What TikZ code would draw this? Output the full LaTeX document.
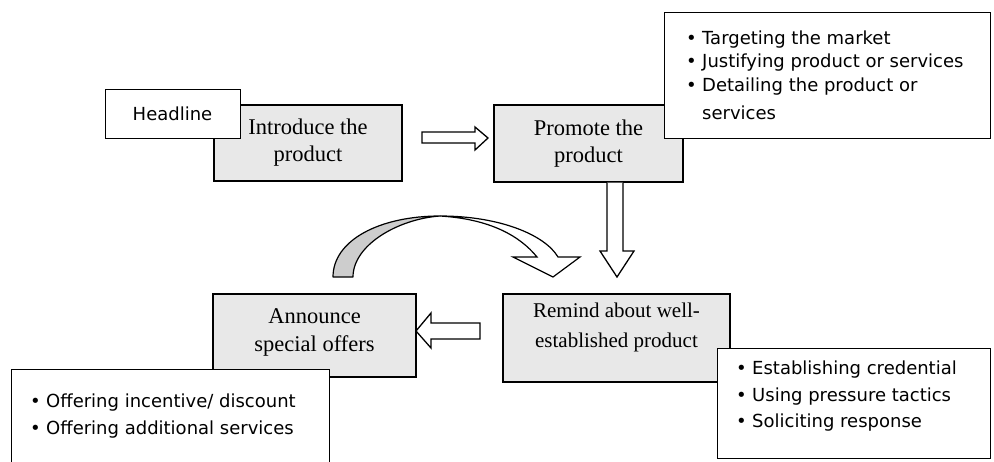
\documentclass[tikz,border=0pt]{standalone}
\usepackage{fontspec}
\setmainfont{Liberation Serif}
\newfontfamily\calloutfont{DejaVu Sans}
\definecolor{boxgray}{RGB}{232,232,232}
\definecolor{curlgray}{RGB}{205,205,205}
\newcommand{\itm}[1]{\makebox[16pt][l]{\textbullet}#1}
\tikzset{
  stage/.style={draw=black, line width=1.5pt, fill=boxgray, inner sep=0pt, align=center,
    font=\fontsize{22.5}{27}\selectfont},
  callout/.style={draw=black, line width=0.9pt, fill=white, inner sep=0pt},
  item/.style={anchor=west, inner sep=0pt, font=\calloutfont\fontsize{18}{22}\selectfont,
    text height=13pt, text depth=4pt},
  blockarrow/.style={draw=black, line width=1.3pt, fill=white, line join=miter},
}
\begin{document}
\begin{tikzpicture}[x=1pt,y=-1pt]
\useasboundingbox (0,0) rectangle (994,461);

% stage boxes
\node[stage, minimum width=188pt, minimum height=76pt] (intro) at (308,143) {Introduce the\\product};
\node[stage, minimum width=189pt, minimum height=77pt] (promote) at (588.5,143.5) {Promote the\\product};
\node[stage, minimum width=203pt, minimum height=83pt] (announce) at (314.5,335.5) {};
\node[inner sep=0pt, align=center, font=\fontsize{22.5}{28}\selectfont] (announcetext) at (314.5,332) {Announce\\special offers};
\node[stage, minimum width=227pt, minimum height=88pt] (remind) at (616.5,338) {};
\node[inner sep=0pt, align=center, font=\fontsize{21}{30}\selectfont] (remindtext) at (616.5,327) {Remind about well-\\established product};

% callouts
\node[callout, minimum width=135pt, minimum height=49pt, font=\calloutfont\fontsize{18}{22}\selectfont] (headline) at (172.5,113.5) {Headline};
\node[callout, minimum width=326pt, minimum height=126pt] (promotenote) at (827,75) {};
\node[item] (p1) at (686,40) {\itm{Targeting the market}};
\node[item] (p2) at (686,63) {\itm{Justifying product or services}};
\node[item] (p3) at (686,87) {\itm{Detailing the product or}};
\node[item] (p4) at (702,115) {services};

\node[callout, minimum width=273pt, minimum height=110pt] (remindnote) at (853.5,403) {};
\node[item] (r1) at (736,370) {\itm{Establishing credential}};
\node[item] (r2) at (736,397) {\itm{Using pressure tactics}};
\node[item] (r3) at (736,423) {\itm{Soliciting response}};

\node[callout, minimum width=318pt, minimum height=101pt] (announcenote) at (170,419.5) {};
\node[item] (a1) at (30,403) {\itm{Offering incentive/ discount}};
\node[item] (a2) at (30,430) {\itm{Offering additional services}};

% block arrows
\draw[blockarrow] (422,132) -- (475,132) -- (475,127) -- (488,138) -- (475,150) -- (475,143) -- (422,143) -- cycle;
\draw[blockarrow] (607,182.5) -- (607,251) -- (600,251) -- (617,277) -- (634,251) -- (623,251) -- (623,182.5);
\draw[blockarrow] (480,323) -- (431,323) -- (431,313) -- (416,331) -- (431,348) -- (431,339) -- (480,339) -- cycle;

% curved arrow
\draw[line width=1.2pt, fill=curlgray, line join=round]
  (333,277) .. controls (333,240) and (380,216) .. (440,216)
  .. controls (398,219) and (353,245) .. (353,277) -- cycle;
\draw[line width=1.2pt, fill=white, line join=miter]
  (440,216) .. controls (500,216) and (545,235) .. (558,257)
  -- (580,257) -- (553,277) -- (513,257) -- (537,257)
  .. controls (520,236) and (490,219) .. (440,216) -- cycle;
\end{tikzpicture}
\end{document}
